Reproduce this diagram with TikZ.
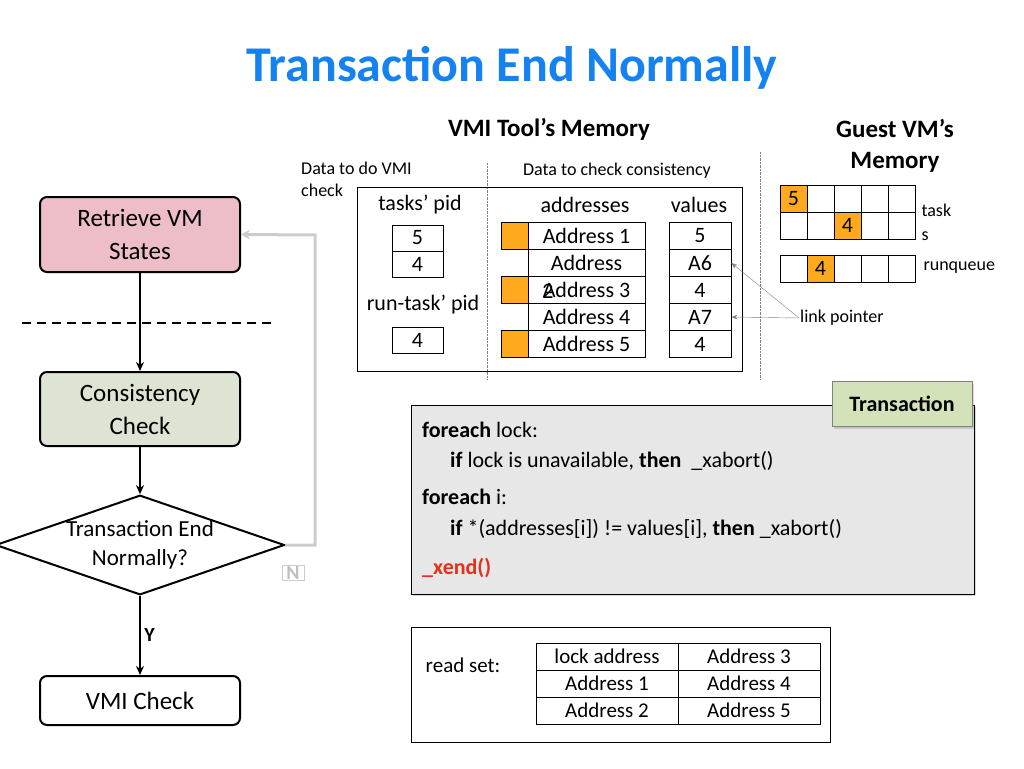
\documentclass[tikz,border=0pt]{standalone}
\usepackage{fontspec}
\setmainfont{Carlito}
\usetikzlibrary{shapes.geometric,arrows.meta,shadows}
\definecolor{ttl}{RGB}{20,130,240}
\definecolor{org}{RGB}{255,170,30}
\definecolor{pinkf}{RGB}{238,190,200}
\definecolor{greenf}{RGB}{222,228,212}
\definecolor{tagf}{RGB}{212,226,186}
\definecolor{codef}{RGB}{231,231,231}
\definecolor{redx}{RGB}{225,50,30}
\begin{document}
\begin{tikzpicture}[x=1pt,y=-1pt,
  fs/.style={font=\fontsize{#1}{#1}\selectfont},
  fsb/.style={font=\fontsize{#1}{#1}\selectfont\bfseries},
  flow/.style={draw,line width=2pt,rounded corners=7pt,minimum width=200pt,align=center,fs=25},
  cell/.style={draw,thick,minimum width=#1,inner sep=0pt,fs=22},
  gcell/.style={draw,thick,minimum width=27pt,minimum height=27pt,inner sep=0pt,fs=22},
  arr/.style={-{Stealth[length=9pt,width=8pt]},line width=2pt},
  txt/.style={fs=22,anchor=west,inner sep=0pt}]
\useasboundingbox (0,0) rectangle (1024,768);
\node[fsb=50,text=ttl] (title) at (512,68) {Transaction End Normally};
\node[fsb=25] (vmt) at (549,129) {VMI Tool’s Memory};
\node[fsb=25,align=center] (gvm) at (895,146) {Guest VM’s\\[6pt]Memory};
\node[fs=18,align=left,anchor=north west,inner sep=0pt] (dvmi) at (301,162) {Data to do VMI\\[4pt]check};
\node[fs=18] (dcc) at (617,171) {Data to check consistency};
\draw[densely dotted,gray] (487,163) -- (487,380);
\draw[densely dotted,gray] (760,152) -- (760,380);
\draw[thick] (357,187) rectangle (742,371);
\node[fs=22] (tp) at (420,205) {tasks’ pid};
\node[cell=51pt,minimum height=26pt] (t1) at (417.5,238) {5};
\node[cell=51pt,minimum height=26pt] (t2) at (417.5,264) {4};
\node[fs=22] (rp) at (423,305) {run-task’ pid};
\node[cell=51pt,minimum height=26pt] (r1) at (417.5,340) {4};
\node[fs=22] (ad) at (585,205) {addresses};
\node[fs=22] (va) at (699,205) {values};
\foreach \i/\a/\v in {1/Address 1/5,2/Address/A6,3/Address 3/4,4/Address 4/A7,5/Address 5/4}{
  \node[cell=117pt,minimum height=27pt] (a\i) at (586.5,209+27*\i) {\a};
  \node[cell=62pt,minimum height=27pt] (v\i) at (700,209+27*\i) {\v};
}
\foreach \i in {1,3,5}{\node[draw,fill=org,minimum size=27pt,inner sep=0pt] (o\i) at (514.5,209+27*\i) {};}
\node[fs=22] (two) at (548,291) {2};
\node[fs=18,anchor=west,inner sep=1pt] (lp) at (799,318) {link pointer};
\draw[gray,-{Stealth[length=6pt]}] (lp.west) -- (v2.east);
\draw[gray,-{Stealth[length=6pt]}] (lp.west) -- (v4.east);
\foreach \c in {0,...,4}{
  \node[gcell] (g0\c) at (793.5+27*\c,198.5) {};
  \node[gcell] (g1\c) at (793.5+27*\c,225.5) {};
  \node[gcell] (q\c) at (793.5+27*\c,268.5) {};
}
\node[gcell,fill=org] at (g00) {5};
\node[gcell,fill=org] at (g12) {4};
\node[gcell,fill=org] at (q1) {4};
\node[fs=18,align=left,anchor=west] (tk) at (918,222) {task\\[6pt]s};
\node[fs=18,anchor=west] (rq) at (920,268) {runqueue};
\node[flow,fill=pinkf,minimum height=75pt] (ret) at (140,234.5) {Retrieve VM\\[8pt]States};
\draw[line width=2pt,dash pattern=on 9pt off 6pt] (22,323) -- (272,323);
\node[flow,fill=greenf,minimum height=74pt] (con) at (140,409) {Consistency\\[8pt]Check};
\node[draw,line width=2pt,diamond,aspect=2.9,minimum width=261pt,minimum height=91pt,inner sep=0pt,align=center,fs=23] (dec) at (140,545) {Transaction End\\[6pt]Normally?};
\node[flow,minimum height=49pt] (vmi) at (140,700.5) {VMI Check};
\draw[arr] (ret) -- (con);
\draw[arr] (con) -- (dec);
\draw[arr] (dec) -- node[right,fsb=20] {Y} (vmi);
\draw[gray!40,line width=3pt,-{Stealth[length=9pt,width=10pt]}] (dec.east) -- (315,545) -- (315,235) -- (ret.east);
\node[draw=gray!40,text=gray!50,fsb=20,inner sep=1pt,minimum width=22pt] (n) at (293,573) {N};
\node[draw,fill=codef,drop shadow={opacity=0.3},minimum width=563pt,minimum height=189pt] (code) at (692.5,499.5) {};
\node[draw=gray,fill=tagf,drop shadow={opacity=0.3},minimum width=140pt,minimum height=45pt,fsb=22] (tag) at (902,404) {Transaction};
\node[txt] (l1) at (422,430) {\textbf{foreach} lock:};
\node[txt] (l2) at (450,461) {\textbf{if} lock is unavailable, \textbf{then}\ \ \_xabort()};
\node[txt] (l3) at (422,497) {\textbf{foreach} i:};
\node[txt] (l4) at (450,529) {\textbf{if} *(addresses[i]) != values[i], \textbf{then} \_xabort()};
\node[txt,text=redx,fsb=22] (l5) at (422,568) {\_xend()};
\draw (411,627) rectangle (830,742);
\node[fs=21] (rs) at (463,665) {read set:};
\foreach \i/\x/\y in {0/lock address/Address 3,1/Address 1/Address 4,2/Address 2/Address 5}{
  \node[cell=142pt,minimum height=27pt,fs=21] (ra\i) at (607,656.5+27*\i) {\x};
  \node[cell=142pt,minimum height=27pt,fs=21] (rb\i) at (749,656.5+27*\i) {\y};
}
\end{tikzpicture}
\end{document}
